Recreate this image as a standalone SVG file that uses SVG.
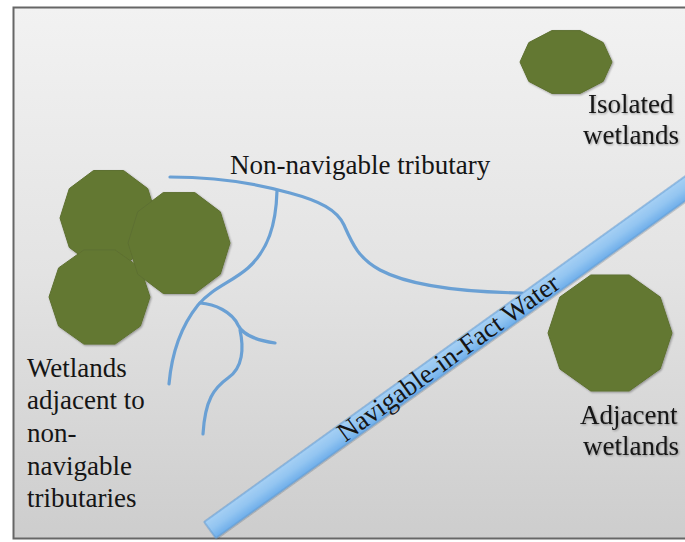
<svg xmlns="http://www.w3.org/2000/svg" width="685" height="542" viewBox="0 0 685 542">
  <defs>
    <linearGradient id="bg" x1="0" y1="0" x2="0" y2="1">
      <stop offset="0" stop-color="#f2f2f2"/>
      <stop offset="0.5" stop-color="#e3e3e3"/>
      <stop offset="1" stop-color="#cdcdcd"/>
    </linearGradient>
    <linearGradient id="water" x1="0" y1="0" x2="0" y2="1">
      <stop offset="0" stop-color="#a6d0f4"/>
      <stop offset="0.5" stop-color="#93c5f1"/>
      <stop offset="1" stop-color="#6eaeea"/>
    </linearGradient>
    <filter id="soft" x="-10%" y="-10%" width="120%" height="120%">
      <feGaussianBlur in="SourceAlpha" stdDeviation="1.2"/>
      <feOffset dx="0.5" dy="1" result="b"/>
      <feComponentTransfer><feFuncA type="linear" slope="0.35"/></feComponentTransfer>
      <feMerge><feMergeNode/><feMergeNode in="SourceGraphic"/></feMerge>
    </filter>
  </defs>
  <style>
    .wet { fill: #647832; stroke: #5d7030; stroke-width: 1; }
    .trib { fill: none; stroke: #6aa0d4; stroke-width: 3.2; stroke-linecap: round; stroke-linejoin: round; }
    .lbl { font-family: "Liberation Serif", "Times New Roman", serif; font-size: 27px; fill: #151515; }
  </style>
  <rect x="0" y="0" width="685" height="542" fill="#ffffff"/>
  <rect x="13.5" y="7.5" width="700" height="531" fill="url(#bg)" stroke="#666666" stroke-width="2"/>

  <g id="isolated-wetland" filter="url(#soft)">
    <polygon class="wet" points="612,62 603.2,42.6 580.2,30.6 551.8,30.6 528.8,42.6 520,62 528.8,81.4 551.8,93.4 580.2,93.4 603.2,81.4"/>
    <text class="lbl" x="588" y="113">Isolated</text>
    <text class="lbl" x="583" y="144">wetlands</text>
  </g>

  <g id="tributary-wetlands" filter="url(#soft)">
    <polygon class="wet" points="157,218 147.7,188.6 123.5,170.5 93.5,170.5 69.3,188.6 60,218 69.3,247.4 93.5,265.5 123.5,265.5 147.7,247.4"/>
    <polygon class="wet" points="150,297 140.4,267.9 115.1,249.9 83.9,249.9 58.6,267.9 49,297 58.6,326.1 83.9,344.1 115.1,344.1 140.4,326.1"/>
    <polygon class="wet" points="230,243 220.3,211.8 194.8,192.6 163.2,192.6 137.7,211.8 128,243 137.7,274.2 163.2,293.4 194.8,293.4 220.3,274.2"/>
  </g>
  <g id="tributary-wetlands-label">
    <text class="lbl" x="27" y="377">Wetlands</text>
    <text class="lbl" x="27" y="409">adjacent to</text>
    <text class="lbl" x="27" y="442">non-</text>
    <text class="lbl" x="27" y="475">navigable</text>
    <text class="lbl" x="27" y="507">tributaries</text>
  </g>

  <g id="connectors">
    <path class="trib" d="M170,177 C220,177 262,185 290,193 C320,201 337,210 344,225 C352,243 358,258 380,270 C410,286 460,292 522,293"/>
    <path class="trib" d="M277,191 C276,225 268,250 248,268 C232,282 212,288 198,305 C182,325 172,350 169,384"/>
    <path class="trib" d="M200,303 C215,304 232,312 238,325 C243,335 255,340 275,343"/>
    <path class="trib" d="M240,330 C244,348 243,368 228,378 C214,388 205,400 203,434"/>
  </g>
  <g id="tributary-label">
    <text class="lbl" x="230" y="174">Non-navigable tributary</text>
  </g>

  <g id="navigable-water" transform="translate(210,530) rotate(-35.7)">
    <rect x="0" y="-10" width="600" height="20" fill="url(#water)" stroke="#5d9ad6" stroke-width="1" filter="url(#soft)"/>
    <text class="lbl" x="294" y="8" text-anchor="middle">Navigable-in-Fact Water</text>
  </g>

  <g id="adjacent-wetland" filter="url(#soft)">
    <polygon class="wet" points="672,333 660.2,297.1 629.2,275 590.8,275 559.8,297.1 548,333 559.8,368.9 590.8,391 629.2,391 660.2,368.9"/>
    <text class="lbl" x="580" y="424">Adjacent</text>
    <text class="lbl" x="583" y="455">wetlands</text>
  </g>
</svg>
